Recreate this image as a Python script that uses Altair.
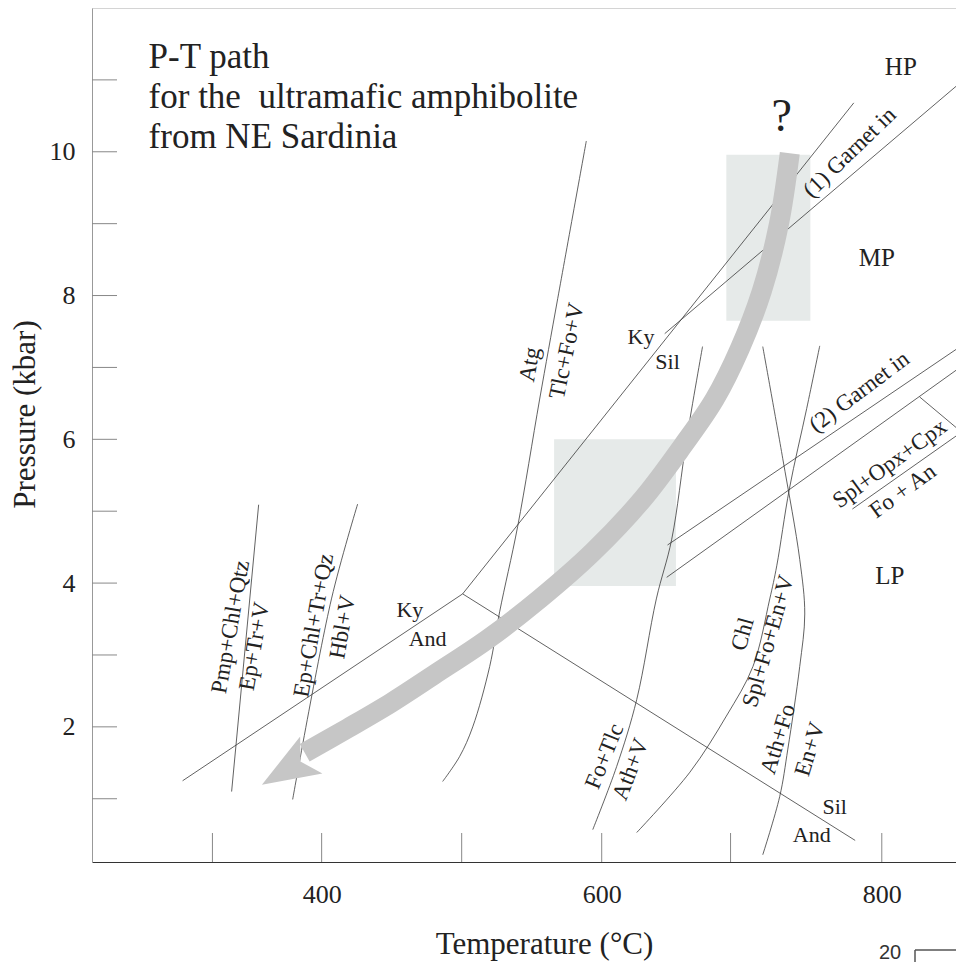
import altair as alt
import pandas as pd

FONT = "Liberation Serif"

# ---------------- axes ----------------
x_domain = [236, 853]
y_domain = [0.12, 12.0]
x_label_values = [400, 600, 800]
y_label_values = [2, 4, 6, 8, 10]
x_tick_values = [322, 400, 500, 600, 692, 800]
y_tick_values = [1, 2, 3, 4, 5, 6, 7, 8, 9, 10, 11]

# ---------------- straight reaction lines (T degC, P kbar) ----------------
ky_and_T = [500.7, 300.7]
ky_and_P = [3.85, 1.25]
and_sil_T = [500.7, 781.0]
and_sil_P = [3.85, 0.42]
ky_sil_T = [500.7, 780.0]
ky_sil_P = [3.85, 10.68]
garnet1_T = [645.0, 853.0]
garnet1_P = [7.47, 10.91]
garnet2a_T = [647.0, 853.0]
garnet2a_P = [4.53, 7.25]
garnet2b_T = [646.4, 853.0]
garnet2b_P = [4.08, 6.96]
spl_a_T = [827.0, 857.0]
spl_a_P = [6.59, 6.10]
spl_b_T = [857.0, 779.0]
spl_b_P = [6.10, 5.03]
pmp_T = [355.0, 335.7]
pmp_P = [5.09, 1.10]

# ---------------- curved reaction lines ----------------
epchl_T = [425.7, 407.0, 379.3]
epchl_P = [5.10, 3.78, 0.99]
atg_T = [589.0, 568.6, 555.7, 540.0, 527.1, 520.0, 507.9, 498.6, 486.4]
atg_P = [10.15, 7.96, 6.56, 4.79, 3.60, 2.84, 2.00, 1.59, 1.24]
fotlc_T = [672.0, 660.7, 650.0, 639.0, 625.0, 610.7, 593.6]
fotlc_P = [7.29, 6.01, 4.61, 3.78, 2.38, 1.45, 0.57]
athfo_T = [715.0, 729.3, 741.4, 745.0, 741.4, 732.9, 727.1, 715.0]
athfo_P = [7.29, 5.73, 4.33, 3.57, 2.84, 1.69, 1.03, 0.22]
chl_T = [755.7, 746.4, 734.0, 725.0, 720.0, 708.0, 689.0, 663.0, 625.0]
chl_P = [7.30, 6.43, 5.31, 4.24, 3.78, 2.84, 2.15, 1.37, 0.53]

# ---------------- shaded P-T boxes ----------------
box_T1 = [689.0, 566.0]
box_T2 = [749.0, 653.0]
box_P1 = [7.65, 3.96]
box_P2 = [9.96, 6.00]

# ---------------- P-T path arrow ----------------
path_T = [734.3, 726.4, 714.3, 698.6, 680.7, 657.9, 629.3, 593.6, 555.7,
          518.6, 480.7, 450.0, 418.6, 387.9]
path_P = [9.98, 8.98, 8.06, 7.26, 6.56, 5.91, 5.17, 4.43, 3.78,
          3.22, 2.73, 2.34, 1.98, 1.64]
head_T = [375.7]
head_P = [1.41]
head_angle = [239]

# ---------------- labels ----------------
lab_text = ["Pmp+Chl+Qtz", "Ep+Tr+V", "Ep+Chl+Tr+Qz", "Hbl+V", "Ky", "And",
            "Atg", "Tlc+Fo+V", "Ky", "Sil", "(1) Garnet in", "?", "HP", "MP",
            "LP", "(2) Garnet in", "Spl+Opx+Cpx", "Fo + An", "Fo+Tlc", "Ath+V",
            "Chl", "Spl+Fo+En+V", "Ath+Fo", "En+V", "Sil", "And"]
lab_T = [335.0, 352.0, 394.3, 415.0, 463.0, 475.7,
         548.6, 575.0, 628.0, 647.0, 777.0, 728.6, 813.6, 796.4,
         805.7, 784.0, 805.7, 815.0, 602.0, 620.7,
         700.7, 719.0, 726.0, 748.6, 766.4, 750.0]
lab_P = [3.39, 3.12, 3.41, 3.39, 3.62, 3.22,
         7.04, 7.23, 7.43, 7.08, 9.99, 10.49, 11.18, 8.52,
         4.10, 6.66, 5.66, 5.28, 1.59, 1.41,
         3.29, 3.19, 1.83, 1.69, 0.88, 0.50]
lab_angle = [280, 280, 280, 280, 0, 0,
             280, 282, 0, 0, 316, 0, 0, 0,
             0, 323, 324, 324, 292, 291,
             286, 286, 287, 287, 0, 0]
lab_size = [23, 23, 23, 23, 22, 22,
            23, 23, 22, 22, 23, 46, 25, 25,
            25, 23, 23, 23, 23, 23,
            23, 23, 23, 23, 22, 22]

title_lines = ["P-T path", "for the \u00a0ultramafic amphibolite", "from NE Sardinia"]
title_T = [276.4, 276.4, 276.4]
title_P = [11.16, 10.61, 10.05]

# ---------------- build tables ----------------
def make_lines(items):
    rows = []
    for name, ts, ps in items:
        for i, (t, p) in enumerate(zip(ts, ps)):
            rows.append({"line": name, "order": i, "T": t, "P": p})
    return pd.DataFrame(rows)

straight_df = make_lines([
    ("ky_and", ky_and_T, ky_and_P), ("and_sil", and_sil_T, and_sil_P),
    ("ky_sil", ky_sil_T, ky_sil_P), ("garnet1", garnet1_T, garnet1_P),
    ("garnet2a", garnet2a_T, garnet2a_P), ("garnet2b", garnet2b_T, garnet2b_P),
    ("spl_a", spl_a_T, spl_a_P), ("spl_b", spl_b_T, spl_b_P),
    ("pmp", pmp_T, pmp_P),
])
curve_df = make_lines([
    ("epchl", epchl_T, epchl_P), ("atg", atg_T, atg_P),
    ("fotlc", fotlc_T, fotlc_P), ("athfo", athfo_T, athfo_P),
    ("chl", chl_T, chl_P),
])
box_df = pd.DataFrame({"T": box_T1, "T2": box_T2, "P": box_P1, "P2": box_P2})
path_df = pd.DataFrame({"order": list(range(len(path_T))), "T": path_T, "P": path_P})
head_df = pd.DataFrame({"T": head_T, "P": head_P, "angle": head_angle})
lab_df = pd.DataFrame({"text": lab_text, "T": lab_T, "P": lab_P,
                       "angle": lab_angle, "size": lab_size})
title_df = pd.DataFrame({"text": title_lines, "T": title_T, "P": title_P})
xt_df = pd.DataFrame({"T": x_tick_values})
yt_df = pd.DataFrame({"P": y_tick_values})

xs = alt.Scale(domain=x_domain, nice=False, zero=False)
ys = alt.Scale(domain=y_domain, nice=False, zero=False)

x_axis = alt.Axis(
    values=x_label_values, title="Temperature (°C)", ticks=False, tickSize=0,
    grid=False, labelFont=FONT, labelFontSize=26, labelColor="#222",
    labelPadding=19, domainColor="#333", domainWidth=1.2,
    titleFont=FONT, titleFontSize=31, titleFontWeight="normal",
    titleColor="#222", titleX=452, titleY=91, titleAlign="center",
    titleBaseline="alphabetic")
y_axis = alt.Axis(
    values=y_label_values, title="Pressure (kbar)", ticks=False, tickSize=0,
    grid=False, labelFont=FONT, labelFontSize=26, labelColor="#222",
    labelPadding=17, domainColor="#999", domainWidth=1,
    titleFont=FONT, titleFontSize=31, titleFontWeight="normal",
    titleColor="#222", titleAngle=270, titleX=-67, titleY=406,
    titleAlign="center", titleBaseline="middle")


def X(field="T"):
    return alt.X(f"{field}:Q", scale=xs, axis=x_axis, title="Temperature (°C)")


def Y(field="P"):
    return alt.Y(f"{field}:Q", scale=ys, axis=y_axis, title="Pressure (kbar)")


LINE_COLOR = "#3a3a3a"
ARROW = "#c6c6c6"

straight = alt.Chart(straight_df).mark_line(
    color=LINE_COLOR, strokeWidth=0.8, clip=True
).encode(x=X(), y=Y(), detail="line:N", order="order:Q")

curves = alt.Chart(curve_df).mark_line(
    color=LINE_COLOR, strokeWidth=0.8, interpolate="catmull-rom", clip=True
).encode(x=X(), y=Y(), detail="line:N", order="order:Q")

boxes = alt.Chart(box_df).mark_rect(color="#e6eae9").encode(
    x=X(), x2="T2:Q", y=Y(), y2="P2:Q")

arrow_body = alt.Chart(path_df).mark_line(
    color=ARROW, strokeWidth=20, strokeCap="butt", interpolate="catmull-rom"
).encode(x=X(), y=Y(), order="order:Q")

arrow_head = alt.Chart(head_df).mark_point(
    shape="M0,-1 L0.72,0.92 L0,0.5 L-0.72,0.92 Z",
    filled=True, color=ARROW, opacity=1, size=3600, strokeWidth=0
).encode(x=X(), y=Y(), angle=alt.Angle("angle:Q", scale=None))

yticks = alt.Chart(yt_df).mark_rule(color="#888", strokeWidth=1).encode(
    y=Y(), x=alt.value(0), x2=alt.value(25))

xticks = alt.Chart(xt_df).mark_rule(color="#888", strokeWidth=1).encode(
    x=X(), y=alt.value(854), y2=alt.value(825))

top_border = alt.Chart(yt_df.head(1)).mark_rule(color="#aaa", strokeWidth=1).encode(
    x=alt.value(0), x2=alt.value(864), y=alt.value(0))

labels = alt.Chart(lab_df).mark_text(
    font=FONT, color="#222", baseline="middle", align="center"
).encode(
    x=X(), y=Y(), text="text:N",
    angle=alt.Angle("angle:Q", scale=None),
    size=alt.Size("size:Q", scale=None, legend=None),
)

title_text = alt.Chart(title_df).mark_text(
    font=FONT, color="#222", fontSize=35, align="left", baseline="alphabetic"
).encode(x=X(), y=Y(), text="text:N")

artifact_df = pd.DataFrame({"text": ["20"]})
artifact_text = alt.Chart(artifact_df).mark_text(
    font="Liberation Sans", fontSize=20, color="#333", align="center",
    baseline="alphabetic"
).encode(text="text:N", x=alt.value(798), y=alt.value(951))
artifact_h = alt.Chart(artifact_df).mark_rule(color="#555", strokeWidth=1.5).encode(
    x=alt.value(823), x2=alt.value(864), y=alt.value(942))
artifact_v = alt.Chart(artifact_df).mark_rule(color="#555", strokeWidth=1.5).encode(
    x=alt.value(823), y=alt.value(942), y2=alt.value(960))

chart = alt.layer(
    boxes, straight, curves, arrow_body, arrow_head, yticks, xticks,
    top_border, labels, title_text, artifact_text, artifact_h, artifact_v
).properties(
    width=864, height=854,
    autosize=alt.AutoSizeParams(type="none"),
    padding={"left": 84, "top": 0, "right": 0, "bottom": 100},
).configure_view(stroke=None)

chart.save("out.html", embed_options={"renderer": "svg", "actions": False})
